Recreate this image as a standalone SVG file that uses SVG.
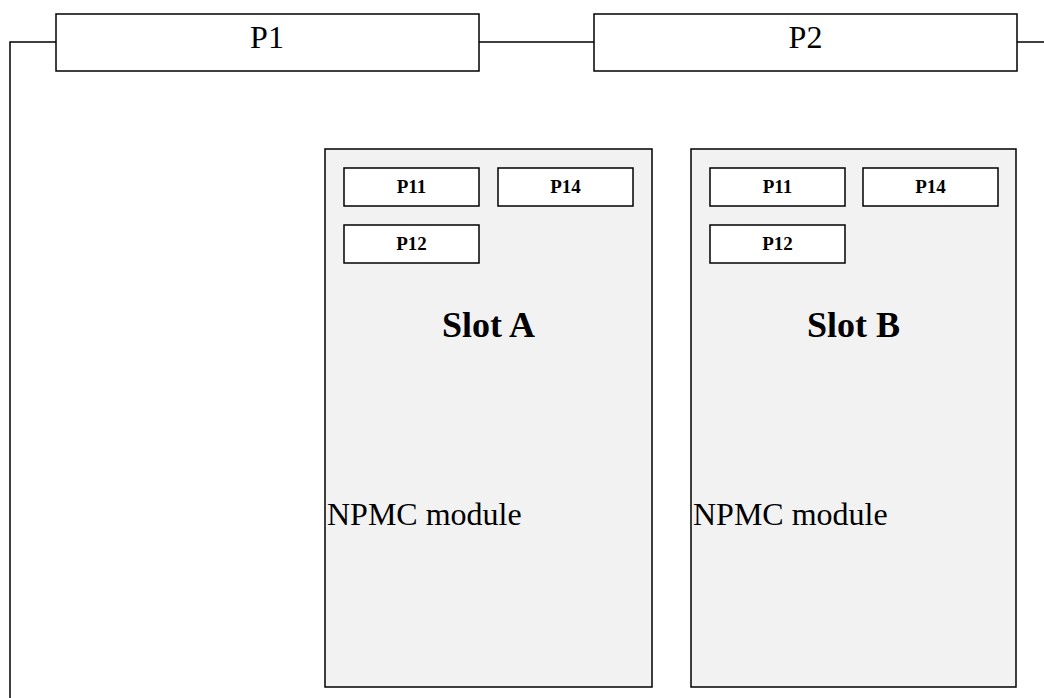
<svg xmlns="http://www.w3.org/2000/svg" width="1044" height="698" viewBox="0 0 1044 698">
<style>
.box{fill:#ffffff;stroke:#000;stroke-width:1.5}
.slot{fill:#f2f2f2;stroke:#000;stroke-width:1.5}
.port{fill:#ffffff;stroke:#000;stroke-width:1.5}
.conn{fill:none;stroke:#000;stroke-width:1.5}
.big{font-family:"Liberation Serif","Times New Roman",serif;font-size:32px;fill:#000}
.slotlbl{font-family:"Liberation Serif","Times New Roman",serif;font-size:36px;font-weight:bold;fill:#000;text-anchor:middle}
.portlbl{font-family:"Liberation Serif","Times New Roman",serif;font-size:19px;font-weight:bold;fill:#000;text-anchor:middle}
</style>
<rect width="1044" height="698" fill="#ffffff"/>
<g id="connectors">
<polyline class="conn" points="56,42 10,42 10,698"/>
<line class="conn" x1="479" y1="42" x2="594" y2="42"/>
<line class="conn" x1="1017" y1="42" x2="1044" y2="42"/>
</g>
<g id="P1">
<rect class="box" x="56" y="14" width="423" height="57"/>
<text class="big" x="267" y="48" text-anchor="middle">P1</text>
</g>
<g id="P2">
<rect class="box" x="594" y="14" width="423" height="57"/>
<text class="big" x="805.5" y="48" text-anchor="middle">P2</text>
</g>
<g id="slotA">
<rect class="slot" x="325" y="149" width="327" height="538"/>
<text class="slotlbl" x="488.5" y="337">Slot A</text>
<text class="big" x="327" y="525">NPMC module</text>
</g>
<g id="slotA-P11">
<rect class="port" x="344" y="168" width="135" height="38"/>
<text class="portlbl" x="411.5" y="192.5">P11</text>
</g>
<g id="slotA-P14">
<rect class="port" x="498" y="168" width="135" height="38"/>
<text class="portlbl" x="565.5" y="192.5">P14</text>
</g>
<g id="slotA-P12">
<rect class="port" x="344" y="225" width="135" height="38"/>
<text class="portlbl" x="411.5" y="249.5">P12</text>
</g>
<g id="slotB">
<rect class="slot" x="691" y="149" width="325" height="538"/>
<text class="slotlbl" x="853.5" y="337">Slot B</text>
<text class="big" x="693" y="525">NPMC module</text>
</g>
<g id="slotB-P11">
<rect class="port" x="710" y="168" width="135" height="38"/>
<text class="portlbl" x="777.5" y="192.5">P11</text>
</g>
<g id="slotB-P14">
<rect class="port" x="863" y="168" width="135" height="38"/>
<text class="portlbl" x="930.5" y="192.5">P14</text>
</g>
<g id="slotB-P12">
<rect class="port" x="710" y="225" width="135" height="38"/>
<text class="portlbl" x="777.5" y="249.5">P12</text>
</g>
</svg>
